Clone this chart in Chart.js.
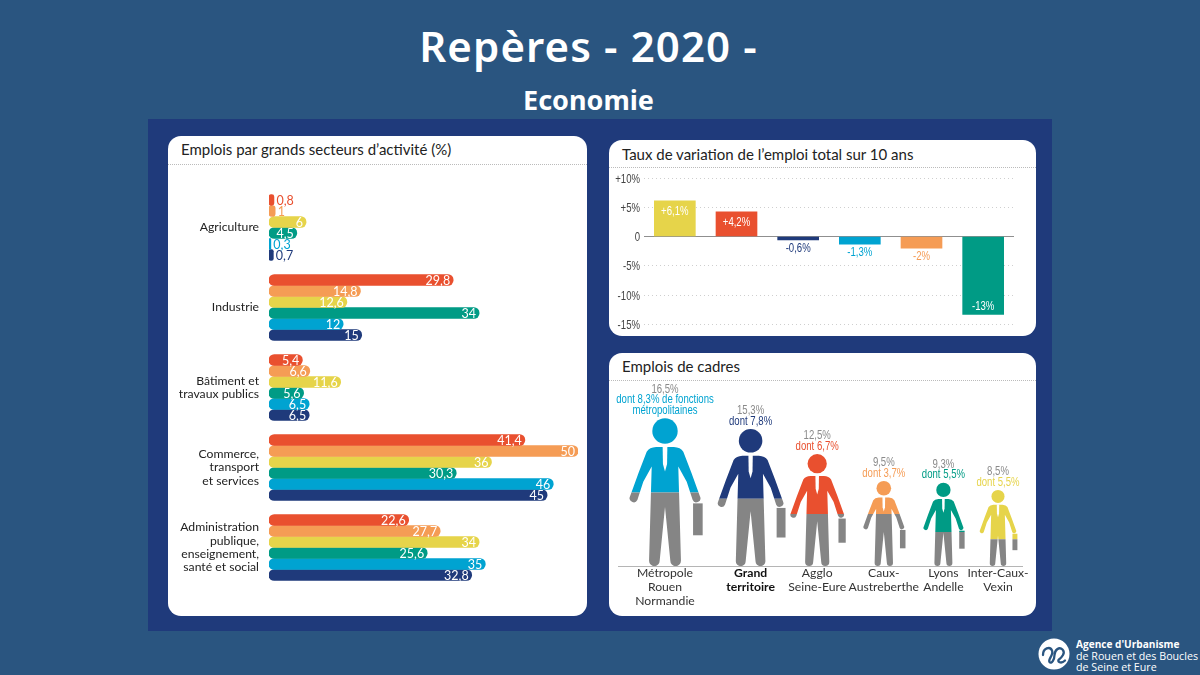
<!DOCTYPE html>
<html lang="fr">
<head>
<meta charset="utf-8">
<title>Repères - 2020 - Economie</title>
<script src="https://cdn.jsdelivr.net/npm/chart.js@4/dist/chart.umd.min.js"></script>
<style>
    html, body { margin: 0; padding: 0; }
    body { width: 1200px; height: 675px; background: #2a5580; position: relative; overflow: hidden; font-family: Lato, sans-serif; }
    .main-title { position: absolute; left: 0; width: 1177px; top: 17px; text-align: center; color: #fff; font: 600 42px "Noto Sans", sans-serif; letter-spacing: 1.1px; }
    .sub-title { position: absolute; left: 0; width: 1177px; top: 81px; text-align: center; color: #fff; font: 700 27px "Noto Sans", sans-serif; }
    .panel { position: absolute; left: 148px; top: 119px; width: 904px; height: 512px; background: #1f3a7b; }
    .card { position: absolute; background: #fff; border-radius: 13px; }
    .card h2 { position: absolute; margin: 0; font: 400 15px Lato, sans-serif; color: #222; white-space: nowrap; }
    .card hr { position: absolute; margin: 0; left: 0; right: 0; border: 0; border-top: 1px dotted #bbb; }
    canvas { position: absolute; }
    .logo { position: absolute; left: 1036px; top: 636px; }
    .agency { position: absolute; left: 1076px; top: 639px; color: #fff; font: 400 10.7px/11.7px "Open Sans", sans-serif; white-space: nowrap; }
    .agency b { font-weight: 700; font-size: 10.1px; }
</style>
</head>
<body>
<div class="main-title">Repères - 2020 -</div>
<div class="sub-title">Economie</div>
<div class="panel"></div>

<div class="card" style="left:168px;top:136px;width:419px;height:480px">
    <h2 style="left:13px;top:4px">Emplois par grands secteurs d’activité (%)</h2>
    <hr style="top:28px">
</div>
<div class="card" style="left:609px;top:140px;width:427px;height:196px">
    <h2 style="left:13px;top:5px">Taux de variation de l’emploi total sur 10 ans</h2>
    <hr style="top:27px">
</div>
<div class="card" style="left:609px;top:353px;width:427px;height:263px">
    <h2 style="left:13px;top:4px">Emplois de cadres</h2>
    <hr style="top:27px">
</div>

<canvas id="secteursChart" width="419" height="451" style="left:168px;top:165px"></canvas>
<canvas id="variationChart" width="427" height="168" style="left:609px;top:168px"></canvas>
<canvas id="cadresChart" width="427" height="238" style="left:609px;top:378px"></canvas>

<svg class="logo" width="36" height="36" viewBox="0 0 36 36">
    <circle cx="18" cy="18" r="15.5" fill="#fff"/>
    <path d="M7 19c0-7 7-9 9-4.500s-4.500 9-2.500 11.500 5-2.500 5-7 4.500-9 8-5.500-1 8-3.500 10 2 5 6 1" fill="none" stroke="#2a5580" stroke-width="2.300" stroke-linecap="round"/>
</svg>
<div class="agency"><b>Agence d'Urbanisme</b><br>de Rouen et des Boucles<br>de Seine et Eure</div>

<script>
Chart.defaults.font.family = 'Lato, sans-serif';
Chart.defaults.animation = false;
Chart.defaults.responsive = false;

const RED = '#e9502f';
const ORANGE = '#f59c55';
const YELLOW = '#e6d44a';
const GREEN = '#009b85';
const CYAN = '#00a3d1';
const NAVY = '#1f3a7b';
const GREY = '#858585';
const NARROW_FONT = '13.5px "Liberation Sans", sans-serif';

// Emplois par grands secteurs d'activite
const sectorLabels = [
    'Agriculture',
    'Industrie',
    ['Bâtiment et', 'travaux publics'],
    ['Commerce,', 'transport', 'et services'],
    ['Administration', 'publique,', 'enseignement,', 'santé et social']
];
const sectorAgglo = [0.8, 29.8, 5.4, 41.4, 22.6];
const sectorCaux = [1, 14.8, 6.6, 50, 27.7];
const sectorInter = [6, 12.6, 11.6, 36, 34];
const sectorLyons = [4.5, 34, 5.6, 30.3, 25.6];
const sectorMetropole = [0.3, 12, 6.5, 46, 35];
const sectorGrand = [0.7, 15, 6.5, 45, 32.8];

// Taux de variation de l'emploi total
const variationLabels = ['Inter-Caux-Vexin', 'Agglo Seine-Eure', 'Grand territoire', 'Métropole Rouen Normandie', 'Caux-Austreberthe', 'Lyons Andelle'];
const variationValues = [6.1, 4.2, -0.6, -1.3, -2, -13.3];
const variationTexts = ['+6,1%', '+4,2%', '-0,6%', '-1,3%', '-2%', '-13%'];

// Emplois de cadres
const cadresLabels = [
    ['Métropole', 'Rouen', 'Normandie'],
    ['Grand', 'territoire'],
    ['Agglo', 'Seine-Eure'],
    ['Caux-', 'Austreberthe'],
    ['Lyons', 'Andelle'],
    ['Inter-Caux-', 'Vexin']
];
const cadresValues = [16.5, 15.3, 12.5, 9.5, 9.3, 8.5];
const cadresDont = [8.3, 7.8, 6.7, 3.7, 5.5, 5.5];
const cadresTexts = [
    ['16,5%', 'dont 8,3% de fonctions', 'métropolitaines'],
    ['15,3%', 'dont 7,8%'],
    ['12,5%', 'dont 6,7%'],
    ['9,5%', 'dont 3,7%'],
    ['9,3%', 'dont 5,5%'],
    ['8,5%', 'dont 5,5%']
];

function formatValue(value) {
    return String(value).replace('.', ',');
}

// pas de police etroite installee : on comprime le texte a l'ecriture
function fillNarrow(c, text, x, y) {
    c.fillText(text, x, y, c.measureText(text).width * 0.71);
}

function renderSecteursChart(canvasId) {
    const ctx = document.getElementById(canvasId);
    if (!ctx) return;

    const series = [
        ['Agglo Seine-Eure', sectorAgglo, RED],
        ['Caux-Austreberthe', sectorCaux, ORANGE],
        ['Inter-Caux-Vexin', sectorInter, YELLOW],
        ['Lyons Andelle', sectorLyons, GREEN],
        ['Métropole Rouen Normandie', sectorMetropole, CYAN],
        ['Grand territoire', sectorGrand, NAVY]
    ];

    const valueLabels = {
        id: 'valueLabels',
        afterDatasetsDraw(chart) {
            const c = chart.ctx;
            c.save();
            c.font = '12.5px Lato, sans-serif';
            c.textBaseline = 'middle';
            chart.data.datasets.forEach((dataset, d) => {
                chart.getDatasetMeta(d).data.forEach((bar, i) => {
                    const value = dataset.data[i];
                    // les petites barres ont leur valeur a cote
                    if (value <= 1) {
                        c.fillStyle = dataset.backgroundColor;
                        c.textAlign = 'left';
                        c.fillText(formatValue(value), bar.x + 2.5, bar.y + 0.5);
                    } else {
                        c.fillStyle = '#fff';
                        c.textAlign = 'right';
                        c.fillText(formatValue(value), bar.x - 3, bar.y + 0.5);
                    }
                });
            });
            c.restore();
        }
    };

    ctx.chart = new Chart(ctx, {
        type: 'bar',
        data: {
            labels: sectorLabels,
            datasets: series.map(s => ({
                label: s[0],
                data: s[1],
                backgroundColor: s[2],
                barThickness: 11,
                borderRadius: 6,
                borderSkipped: false
            }))
        },
        options: {
            indexAxis: 'y',
            layout: { padding: { top: 22.5, bottom: 28.5, right: 9 } },
            plugins: { legend: { display: false }, tooltip: { enabled: false } },
            scales: {
                x: { display: false, min: 0, max: 50 },
                y: {
                    afterFit: scale => {
                        scale.width = 101;
                        scale.paddingTop = 0;
                        scale.paddingBottom = 0;
                    },
                    grid: { display: false, drawTicks: false },
                    border: { display: false },
                    ticks: {
                        padding: 10,
                        color: '#222',
                        crossAlign: 'near',
                        font: { size: 12.2, lineHeight: 1.09 }
                    }
                }
            }
        },
        plugins: [valueLabels]
    });
}

function renderVariationChart(canvasId) {
    const ctx = document.getElementById(canvasId);
    if (!ctx) return;

    const colors = [YELLOW, RED, NAVY, CYAN, ORANGE, GREEN];

    const valueLabels = {
        id: 'valueLabels',
        afterDatasetsDraw(chart) {
            const c = chart.ctx;
            c.save();
            c.font = NARROW_FONT;
            c.textAlign = 'center';
            c.textBaseline = 'middle';
            chart.getDatasetMeta(0).data.forEach((bar, i) => {
                const value = variationValues[i];
                if (value > 0) {
                    c.fillStyle = '#fff';
                    fillNarrow(c, variationTexts[i], bar.x, bar.y + 10);
                } else if (value < -5) {
                    c.fillStyle = '#fff';
                    fillNarrow(c, variationTexts[i], bar.x, bar.y - 8);
                } else {
                    c.fillStyle = colors[i];
                    fillNarrow(c, variationTexts[i], bar.x, bar.y + 8);
                }
            });

            // graduations de l'axe, comprimees aussi
            const yScale = chart.scales.y;
            c.textAlign = 'right';
            c.fillStyle = '#444';
            yScale.ticks.forEach((tick, i) => {
                fillNarrow(c, tick.label, yScale.right - 4, yScale.getPixelForTick(i) + 1);
            });
            c.restore();
        }
    };

    ctx.chart = new Chart(ctx, {
        type: 'bar',
        data: {
            labels: variationLabels,
            datasets: [{
                label: 'Taux de variation',
                data: variationValues,
                backgroundColor: colors,
                barThickness: 41
            }]
        },
        options: {
            layout: { padding: { top: 10, bottom: 11.7, right: 22 } },
            plugins: { legend: { display: false }, tooltip: { enabled: false } },
            scales: {
                x: { display: false },
                y: {
                    min: -15,
                    max: 10,
                    afterFit: scale => {
                        scale.width = 35;
                        scale.paddingTop = 0;
                        scale.paddingBottom = 0;
                    },
                    grid: {
                        drawTicks: false,
                        color: c => (c.tick && c.tick.value === 0 ? '#8f8f8f' : '#cfcfcf')
                    },
                    border: {
                        display: false,
                        dash: c => (c.tick && c.tick.value === 0 ? [] : [1, 3])
                    },
                    ticks: {
                        display: false,
                        stepSize: 5,
                        callback: value => (value > 0 ? '+' + value + '%' : value === 0 ? '0' : value + '%')
                    }
                }
            }
        },
        plugins: [valueLabels]
    });
}

// Silhouette d'un cadre, en fractions de sa hauteur
function tracePerson(c, x, top, h) {
    const px = v => x + v * h;
    const py = v => top + v * h;

    c.beginPath();
    c.arc(x, py(0.086), 0.086 * h, 0, Math.PI * 2);
    c.fill();

    // buste, bras et jambes d'un seul tenant
    c.beginPath();
    c.moveTo(px(-0.06), py(0.195));
    c.lineTo(px(0.06), py(0.195));
    c.quadraticCurveTo(px(0.105), py(0.198), px(0.124), py(0.226));
    c.lineTo(px(0.18), py(0.372));
    c.lineTo(px(0.237), py(0.53));
    c.arc(px(0.212), py(0.541), 0.0275 * h, -0.41, 2.73);
    c.lineTo(px(0.147), py(0.429));
    c.lineTo(px(0.09), py(0.327));
    c.lineTo(px(0.095), py(0.5));
    c.lineTo(px(0.108), py(0.965));
    c.arc(px(0.072), py(0.965), 0.036 * h, 0, Math.PI);
    c.lineTo(px(0), py(0.6));
    c.lineTo(px(-0.036), py(0.965));
    c.arc(px(-0.072), py(0.965), 0.036 * h, 0, Math.PI);
    c.lineTo(px(-0.095), py(0.5));
    c.lineTo(px(-0.09), py(0.327));
    c.lineTo(px(-0.147), py(0.429));
    c.lineTo(px(-0.187), py(0.553));
    c.arc(px(-0.212), py(0.541), 0.0275 * h, 0.45, 3.55);
    c.lineTo(px(-0.18), py(0.372));
    c.lineTo(px(-0.124), py(0.226));
    c.quadraticCurveTo(px(-0.105), py(0.198), px(-0.06), py(0.195));
    c.fill();

    // mallette
    c.fillRect(px(0.19), py(0.576), 0.065 * h, 0.216 * h);
}

function renderCadresChart(canvasId) {
    const ctx = document.getElementById(canvasId);
    if (!ctx) return;

    const colors = [CYAN, NAVY, RED, ORANGE, GREEN, YELLOW];
    // decalage de chaque silhouette : elles ne sont pas regulierement espacees
    const slotShift = [0, 19, 19, 19, 12, 0];

    const people = {
        id: 'people',
        afterDatasetsDraw(chart) {
            const c = chart.ctx;
            const yScale = chart.scales.y;

            chart.getDatasetMeta(0).data.forEach((bar, i) => {
                const h = bar.base - bar.y;
                const split = yScale.getPixelForValue(cadresValues[i] - cadresDont[i]);

                // haut colore (part "dont"), bas gris
                [[colors[i], 0, split], [GREY, split, chart.height]].forEach(part => {
                    c.save();
                    c.beginPath();
                    c.rect(0, part[1], chart.width, part[2] - part[1]);
                    c.clip();
                    c.fillStyle = part[0];
                    tracePerson(c, bar.x, bar.y, h);
                    c.restore();
                });

                // cravate
                c.fillStyle = '#fff';
                c.beginPath();
                c.moveTo(bar.x - 0.016 * h, bar.y + 0.19 * h);
                c.lineTo(bar.x + 0.016 * h, bar.y + 0.19 * h);
                c.lineTo(bar.x + 0.014 * h, bar.y + 0.31 * h);
                c.lineTo(bar.x, bar.y + 0.36 * h);
                c.lineTo(bar.x - 0.014 * h, bar.y + 0.31 * h);
                c.closePath();
                c.fill();

                // textes au dessus de la tete
                const lines = cadresTexts[i];
                c.save();
                c.font = NARROW_FONT;
                c.textAlign = 'center';
                c.textBaseline = 'middle';
                lines.forEach((line, l) => {
                    c.fillStyle = l === 0 ? '#8a8a8a' : colors[i];
                    fillNarrow(c, line, bar.x, bar.y - 8 - (lines.length - 1 - l) * 10.7);
                });
                c.restore();
            });

            // ligne de base
            c.save();
            c.strokeStyle = '#b5b5b5';
            c.lineWidth = 1;
            c.beginPath();
            c.moveTo(9, yScale.bottom + 0.5);
            c.lineTo(414, yScale.bottom + 0.5);
            c.stroke();
            c.restore();
        }
    };

    ctx.chart = new Chart(ctx, {
        type: 'bar',
        data: {
            labels: cadresLabels,
            datasets: [{
                label: 'Emplois de cadres',
                data: cadresValues,
                backgroundColor: 'transparent',
                barThickness: 1
            }]
        },
        options: {
            layout: { padding: { left: 56, right: 38 } },
            plugins: { legend: { display: false }, tooltip: { enabled: false } },
            scales: {
                x: {
                    offset: false,
                    grid: { display: false, drawTicks: false },
                    border: { display: false },
                    afterFit: scale => { scale.height = 50; },
                    afterUpdate: scale => {
                        if (scale.shifted) return;
                        scale.shifted = true;
                        const base = scale.getPixelForValue.bind(scale);
                        scale.getPixelForValue = (value, index) => base(value, index) + slotShift[Math.round(value)];
                    },
                    ticks: {
                        autoSkip: false,
                        maxRotation: 0,
                        minRotation: 0,
                        padding: 0,
                        color: c => (c.index === 1 ? '#111' : '#333'),
                        font: c => ({ size: 12.2, lineHeight: 1.15, weight: c.index === 1 ? 'bold' : 'normal' })
                    }
                },
                y: { display: false, min: 0, max: 21 }
            }
        },
        plugins: [people]
    });
}

renderSecteursChart('secteursChart');
renderVariationChart('variationChart');
renderCadresChart('cadresChart');
</script>
</body>
</html>
